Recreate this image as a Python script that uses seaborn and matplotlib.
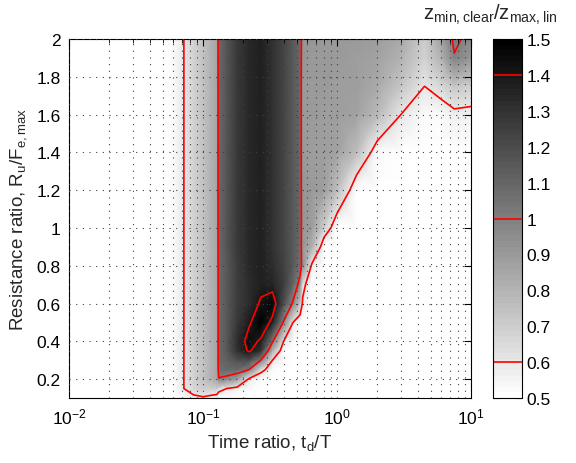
import numpy as np
import matplotlib
matplotlib.use("Agg")
import matplotlib.pyplot as plt
from matplotlib.ticker import FixedLocator, FormatStrFormatter, LogLocator, NullLocator, NullFormatter
import seaborn as sns

# ---- data ----
td_T = [0.01, 0.05, 0.06, 0.072, 0.085, 0.1, 0.115, 0.127, 0.131, 0.15, 0.18, 0.22, 0.27, 0.33,
        0.4, 0.47, 0.53, 0.555, 0.65, 0.8, 1.0, 1.4, 2.0, 3.0, 4.5, 6.0, 7.5, 10.0]
Ru_Fe = [0.1, 0.15, 0.2, 0.25, 0.3, 0.35, 0.4, 0.5, 0.6, 0.7, 0.8, 0.9, 1.0, 1.2, 1.4, 1.6, 1.75, 1.9, 2.0]

left_band = [0.5, 0.5, 0.52, 0.60, 0.68, 0.74, 0.80, 0.85]
dark_band = [1.09, 1.16, 1.27, 1.34, 1.36, 1.31, 1.23, 1.15, 1.08]

z_ratio = [
    [0.5, 0.5, 0.5, 0.52, 0.57, 0.585, 0.56, 0.54, 0.53, 0.51, 0.5, 0.5, 0.5, 0.5, 0.5, 0.5, 0.5, 0.5, 0.5, 0.5, 0.5, 0.5, 0.5, 0.5, 0.5, 0.5, 0.5, 0.5],
    [0.5, 0.5, 0.51, 0.60, 0.66, 0.70, 0.70, 0.70, 0.64, 0.60, 0.55, 0.52, 0.5, 0.5, 0.5, 0.5, 0.5, 0.5, 0.5, 0.5, 0.5, 0.5, 0.5, 0.5, 0.5, 0.5, 0.5, 0.5],
    left_band + [0.99, 0.96, 0.88, 0.58, 0.52, 0.5, 0.5, 0.5, 0.5, 0.5, 0.5, 0.5, 0.5, 0.5, 0.5, 0.5, 0.5, 0.5, 0.5, 0.5],
    left_band + [1.06, 1.08, 1.08, 1.00, 0.64, 0.53, 0.5, 0.5, 0.5, 0.5, 0.5, 0.5, 0.5, 0.5, 0.5, 0.5, 0.5, 0.5, 0.5, 0.5],
    left_band + [1.08, 1.12, 1.18, 1.20, 1.00, 0.60, 0.52, 0.5, 0.5, 0.5, 0.5, 0.5, 0.5, 0.5, 0.5, 0.5, 0.5, 0.5, 0.5, 0.5],
    left_band + [1.08, 1.15, 1.30, 1.42, 1.30, 0.80, 0.50, 0.5, 0.5, 0.5, 0.5, 0.5, 0.5, 0.5, 0.5, 0.5, 0.5, 0.5, 0.5, 0.5],
    left_band + [1.08, 1.15, 1.32, 1.45, 1.38, 1.02, 0.60, 0.52, 0.5, 0.5, 0.5, 0.5, 0.5, 0.5, 0.5, 0.5, 0.5, 0.5, 0.5, 0.5],
    left_band + [1.08, 1.15, 1.28, 1.38, 1.50, 1.36, 0.98, 0.60, 0.52, 0.5, 0.5, 0.5, 0.5, 0.5, 0.5, 0.5, 0.5, 0.5, 0.5, 0.5],
    left_band + [1.08, 1.15, 1.25, 1.32, 1.42, 1.48, 1.20, 0.98, 0.72, 0.58, 0.5, 0.5, 0.5, 0.5, 0.5, 0.5, 0.5, 0.5, 0.5, 0.5],
    left_band + [1.08, 1.15, 1.25, 1.32, 1.36, 1.35, 1.25, 1.10, 0.95, 0.64, 0.50, 0.5, 0.5, 0.5, 0.5, 0.5, 0.5, 0.5, 0.5, 0.5],
    left_band + [1.08, 1.15, 1.26, 1.34, 1.36, 1.32, 1.24, 1.15, 1.05, 0.95, 0.57, 0.5, 0.5, 0.5, 0.5, 0.5, 0.5, 0.5, 0.5, 0.5],
    left_band + dark_band[:8] + [1.07, 0.92, 0.82, 0.50, 0.5, 0.5, 0.5, 0.5, 0.5, 0.5, 0.5, 0.5],
    left_band + dark_band + [0.92, 0.88, 0.70, 0.5, 0.5, 0.5, 0.5, 0.5, 0.5, 0.5, 0.5],
    left_band + dark_band + [0.91, 0.90, 0.88, 0.76, 0.5, 0.5, 0.5, 0.5, 0.5, 0.5, 0.5],
    left_band + dark_band + [0.90, 0.89, 0.88, 0.86, 0.75, 0.52, 0.5, 0.5, 0.5, 0.5, 0.5],
    left_band + dark_band + [0.90, 0.90, 0.89, 0.88, 0.86, 0.78, 0.60, 0.52, 0.53, 0.57, 0.56],
    left_band + dark_band + [0.90, 0.90, 0.90, 0.89, 0.88, 0.84, 0.72, 0.60, 0.66, 0.72, 0.70],
    left_band + dark_band + [0.91, 0.90, 0.90, 0.90, 0.89, 0.87, 0.80, 0.68, 0.80, 0.99, 0.92],
    left_band + dark_band + [0.92, 0.91, 0.90, 0.90, 0.90, 0.88, 0.83, 0.70, 0.86, 1.03, 0.95],
]

contour_levels = [0.6, 1.0, 1.4]
y_ticks = [0.2, 0.4, 0.6, 0.8, 1.0, 1.2, 1.4, 1.6, 1.8, 2.0]
cbar_ticks = [0.5, 0.6, 0.7, 0.8, 0.9, 1.0, 1.1, 1.2, 1.3, 1.4, 1.5]

# ---- style ----
sns.set_style("white")
plt.rcParams["font.family"] = ["Liberation Sans", "DejaVu Sans"]
plt.rcParams["mathtext.fontset"] = "custom"
plt.rcParams["mathtext.rm"] = "Liberation Sans"
plt.rcParams["mathtext.it"] = "Liberation Sans"
plt.rcParams["mathtext.default"] = "regular"

cmap = sns.color_palette("gray_r", as_cmap=True).resampled(64)

fig = plt.figure(figsize=(5.76, 4.64), dpi=100)
ax = fig.add_axes([69 / 576, 1 - 399 / 464, (471 - 69) / 576, (399 - 40) / 464])
cax = fig.add_axes([493 / 576, 1 - 399 / 464, 29 / 576, (399 - 40) / 464])

X, Y = np.meshgrid(np.array(td_T), np.array(Ru_Fe))
Z = np.array(z_ratio)

mesh = ax.pcolormesh(X, Y, Z, shading="gouraud", cmap=cmap, vmin=0.5, vmax=1.5, zorder=0)
cs = ax.contour(X, Y, Z, levels=contour_levels, colors="red", linewidths=1.2, zorder=1)

ax.set_xscale("log")
ax.set_xlim(0.01, 10)
ax.set_ylim(0.1, 2)
ax.yaxis.set_major_locator(FixedLocator(y_ticks))
ax.yaxis.set_major_formatter(FormatStrFormatter("%g"))
ax.yaxis.set_minor_locator(NullLocator())
ax.xaxis.set_major_locator(LogLocator(base=10, numticks=10))
ax.xaxis.set_minor_locator(LogLocator(base=10, subs=np.arange(2, 10), numticks=20))
ax.xaxis.set_minor_formatter(NullFormatter())

ax.set_axisbelow(False)
ax.grid(True, which="major", axis="both", linestyle=(0, (1, 5)), color="0.25", linewidth=0.8)
ax.grid(True, which="minor", axis="x", linestyle=(0, (1, 5)), color="0.25", linewidth=0.8)

ax.tick_params(which="both", direction="in", top=True, right=True, labelsize=12.5, colors="black")
ax.tick_params(which="major", length=5, width=0.8, pad=6)
ax.tick_params(which="minor", length=3, width=0.6)
for s in ax.spines.values():
    s.set_linewidth(0.8)
    s.set_color("black")

ax.set_xlabel(r"Time ratio, t$_d$/T", fontsize=13.5, labelpad=4)
ax.set_ylabel(r"Resistance ratio, R$_u$/F$_{e,max}$", fontsize=13.5, labelpad=5)

cb = fig.colorbar(mesh, cax=cax, ticks=cbar_ticks)
cb.add_lines(cs)
cb.ax.yaxis.set_major_formatter(FormatStrFormatter("%g"))
cax.tick_params(direction="in", left=True, right=True, length=4, width=0.8, labelsize=12.5, colors="black")
cb.outline.set_linewidth(0.8)
cb.outline.set_edgecolor("black")

fig.text(490 / 576, 1 - 15 / 464, r"z$_{min,clear}$/z$_{max,lin}$", ha="center", va="center", fontsize=14.5)

fig.savefig("out.png", dpi=100)
